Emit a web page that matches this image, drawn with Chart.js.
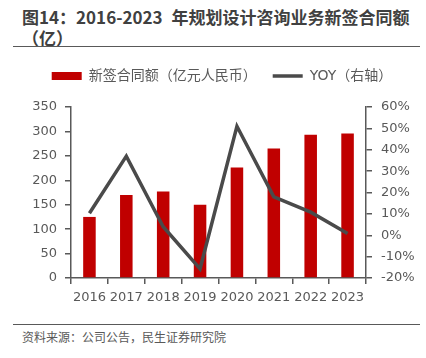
<!DOCTYPE html>
<html>
<head>
<meta charset="utf-8">
<script src="https://cdn.jsdelivr.net/npm/chart.js@4"></script>
<style>
    html, body { margin: 0; padding: 0; background: #fff; }
    body { width: 426px; height: 358px; position: relative; overflow: hidden;
           font-family: "Noto Sans CJK SC", "Noto Sans", sans-serif; }
    #title { position: absolute; left: 22px; top: 6px; width: 404px; font-size: 17px;
             font-weight: bold; color: #404040; line-height: 21px; white-space: nowrap; }
    #title .gap { display: inline-block; width: 9px; }
    #rule-top { position: absolute; left: 13px; top: 46px; width: 407px; height: 0;
                border-top: 1.5px solid #595959; }
    #rule-bottom { position: absolute; left: 13px; top: 324px; width: 407px; height: 0;
                   border-top: 1.5px solid #595959; }
    #source { position: absolute; left: 22px; top: 328px; font-size: 12px; color: #595959; }
    #wrap { position: absolute; left: 0; top: 0; width: 426px; height: 320px; }
</style>
</head>
<body>
<div id="title">图14：2016-2023<span class="gap"></span>年规划设计咨询业务新签合同额<br>（亿）</div>
<div id="rule-top"></div>
<div id="wrap"><canvas id="chart"></canvas></div>
<div id="rule-bottom"></div>
<div id="source">资料来源：公司公告，民生证券研究院</div>
<script>
const YEARS = ["2016", "2017", "2018", "2019", "2020", "2021", "2022", "2023"];
const CONTRACTS = [125, 170, 177, 150, 226, 265, 293, 296];
const YOY = [10.3, 37, 4, -15.7, 51, 18, 10.8, 0.8];

const AXIS_COLOR = "#595959";
const BAR_COLOR = "#C00000";
const LINE_COLOR = "#4a4a4a";
const TICK_FONT = "'DejaVu Sans', 'Noto Sans CJK SC', sans-serif";

Chart.defaults.font.family = TICK_FONT;
Chart.defaults.color = AXIS_COLOR;

// push the plot down a bit below the legend
const legendGap = {
    id: "legendGap",
    beforeInit(chart) {
        const fit = chart.legend.fit;
        chart.legend.fit = function () {
            fit.bind(chart.legend)();
            this.height += 14;
        };
    },
};

new Chart(document.getElementById("chart"), {
    type: "bar",
    plugins: [legendGap],
    data: {
        labels: YEARS,
        datasets: [
            {
                label: "新签合同额（亿元人民币）",
                data: CONTRACTS,
                backgroundColor: BAR_COLOR,
                borderWidth: 0,
                barPercentage: 0.34,
                categoryPercentage: 1,
                pointStyle: "rect",
                yAxisID: "y",
                order: 2,
            },
            {
                type: "line",
                label: "YOY（右轴）",
                data: YOY,
                borderColor: LINE_COLOR,
                backgroundColor: LINE_COLOR,
                borderWidth: 3.5,
                pointRadius: 0,
                pointStyle: "line",
                tension: 0,
                yAxisID: "y1",
                order: 1,
            },
        ],
    },
    options: {
        responsive: true,
        maintainAspectRatio: false,
        animation: false,
        layout: { padding: { top: 53, left: 18, right: 0, bottom: 0 } },
        plugins: {
            legend: {
                position: "top",
                labels: {
                    usePointStyle: true,
                    pointStyleWidth: 30,
                    boxHeight: 8,
                    padding: 16,
                    font: { size: 14, family: "'DejaVu Sans', 'Noto Sans CJK SC', sans-serif" },
                    color: AXIS_COLOR,
                    sort: (a, b) => a.datasetIndex - b.datasetIndex,
                },
            },
            tooltip: { enabled: false },
        },
        scales: {
            x: {
                grid: { offset: true, drawOnChartArea: false, drawTicks: true, tickLength: 6, color: AXIS_COLOR, lineWidth: 1.5 },
                border: { color: AXIS_COLOR, width: 1.5 },
                ticks: { font: { size: 13 }, color: AXIS_COLOR, maxRotation: 0, autoSkip: false, padding: 6 },
                afterFit: (s) => { s.height = 42; },
            },
            y: {
                position: "left",
                min: 0,
                max: 350,
                ticks: { stepSize: 50, font: { size: 13 }, color: AXIS_COLOR, padding: 8 },
                grid: { drawOnChartArea: false, drawTicks: true, tickLength: 6, color: AXIS_COLOR, lineWidth: 1.5 },
                border: { color: AXIS_COLOR, width: 1.5 },
                afterFit: (s) => { s.width = 53; },
            },
            y1: {
                position: "right",
                min: -20,
                max: 60,
                ticks: { stepSize: 10, font: { size: 13 }, color: AXIS_COLOR, padding: 9, callback: (v) => v + "%" },
                grid: { drawOnChartArea: false, drawTicks: true, tickLength: 6, color: AXIS_COLOR, lineWidth: 1.5 },
                border: { color: AXIS_COLOR, width: 1.5 },
                afterFit: (s) => { s.width = 60; },
            },
        },
    },
});
</script>
</body>
</html>
